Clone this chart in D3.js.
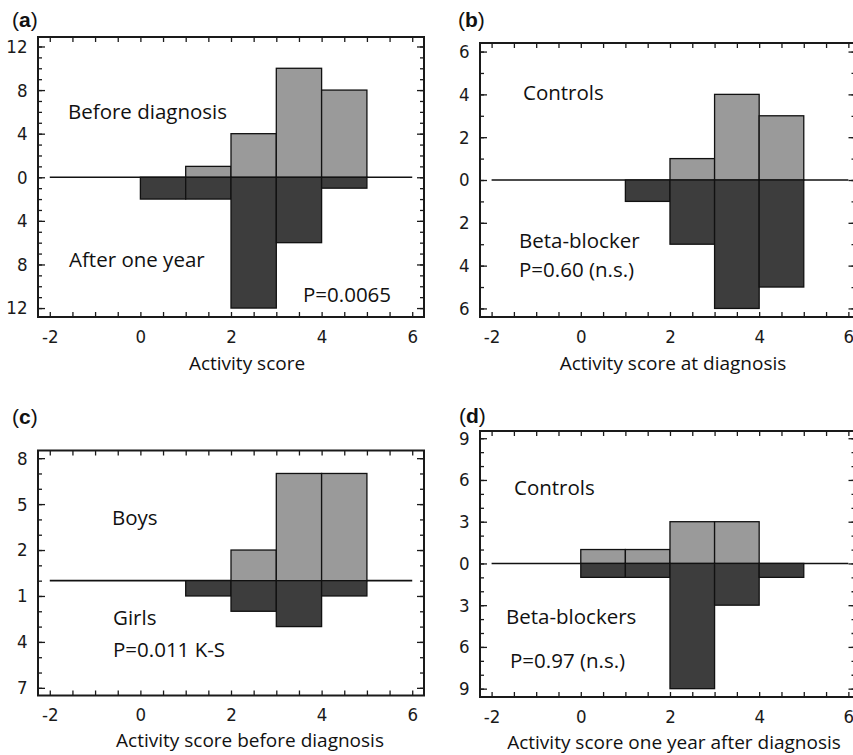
<!DOCTYPE html>
<html>
<head>
<meta charset="utf-8">
<script src="https://cdn.jsdelivr.net/npm/d3@7"></script>
<style>
  body { margin: 0; background: #fff; }
  svg { display: block; }
</style>
</head>
<body>
<script>
// lower edges of the one point wide activity score classes
const bins = [0, 1, 2, 3, 4];

// counts per class
const beforeDiagnosis = [0, 1, 4, 10, 8];
const afterOneYear = [2, 2, 12, 6, 1];
const controlsAtDiagnosis = [0, 0, 1, 4, 3];
const betaBlockerAtDiagnosis = [0, 1, 3, 6, 5];
const boys = [0, 0, 2, 7, 7];
const girls = [0, 1, 2, 3, 1];
const controlsOneYear = [1, 1, 3, 3, 0];
const betaBlockersOneYear = [1, 1, 9, 3, 1];

// tick labels
const xTicks = [-2, 0, 2, 4, 6];
const yTicksA = [-12, -8, -4, 0, 4, 8, 12];
const yTicksB = [-6, -4, -2, 0, 2, 4, 6];
const yTicksC = [-7, -4, -1, 2, 5, 8];
const yTicksD = [-9, -6, -3, 0, 3, 6, 9];

const W = 853, H = 755;
const lightFill = "#9a9a9a";
const darkFill = "#3d3d3d";
const tickFont = "'Liberation Sans Narrow', 'Arial Narrow', 'DejaVu Sans Condensed', sans-serif";
const textFont = "'Open Sans', sans-serif";

const panels = [
  {tag: "a", up: beforeDiagnosis, down: afterOneYear, yTicks: yTicksA,
   xDomain: [-2.26, 6.26], yDomain: [-12.82, 12.87], box: [38, 37, 424, 317],
   tagPos: [12, 27], title: "Activity score", titlePos: [247, 370],
   notes: [["Before diagnosis", 68, 119], ["After one year", 69, 267], ["P=0.0065", 303, 302]]},
  {tag: "b", up: controlsAtDiagnosis, down: betaBlockerAtDiagnosis, yTicks: yTicksB,
   xDomain: [-2.26, 6.16], yDomain: [-6.4, 6.4], box: [480, 43, 855.5, 317],
   tagPos: [458, 27], title: "Activity score at diagnosis", titlePos: [673, 370],
   notes: [["Controls", 523, 100], ["Beta-blocker", 519, 248], ["P=0.60 (n.s.)", 519, 277]]},
  {tag: "c", up: boys, down: girls, yTicks: yTicksC,
   xDomain: [-2.26, 6.26], yDomain: [-7.5, 8.5], box: [38, 450.5, 424, 695.5],
   tagPos: [12, 424], title: "Activity score before diagnosis", titlePos: [250, 747],
   notes: [["Boys", 112, 525], ["Girls", 113, 625], ["P=0.011 K-S", 113, 657]]},
  {tag: "d", up: controlsOneYear, down: betaBlockersOneYear, yTicks: yTicksD,
   xDomain: [-2.26, 6.16], yDomain: [-9.6, 9.52], box: [480, 431, 855.5, 697],
   tagPos: [459, 423], title: "Activity score one year after diagnosis", titlePos: [674, 749],
   notes: [["Controls", 514, 495], ["Beta-blockers", 506, 624], ["P=0.97 (n.s.)", 510, 668]]}
];

const svg = d3.select("body")
  .append("svg")
  .attr("width", W)
  .attr("height", H);

panels.forEach(drawPanel);

function drawPanel(p) {
  const [x0, y0, x1, y1] = p.box;
  const x = d3.scaleLinear().domain(p.xDomain).range([x0, x1]);
  const y = d3.scaleLinear().domain(p.yDomain).range([y1, y0]);
  const g = svg.append("g");

  // zero line across the score range
  g.append("line")
    .attr("x1", x(-2)).attr("x2", x(6))
    .attr("y1", y(0)).attr("y2", y(0))
    .attr("stroke", "#111").attr("stroke-width", 1.6);

  // upper histogram (light) and mirrored lower histogram (dark)
  const upData = bins.map((b, i) => ({b: b, v: p.up[i]})).filter(d => d.v > 0);
  const downData = bins.map((b, i) => ({b: b, v: p.down[i]})).filter(d => d.v > 0);

  g.selectAll("rect.up")
    .data(upData)
    .enter()
    .append("rect")
    .attr("class", "up")
    .attr("x", d => x(d.b))
    .attr("y", d => y(d.v))
    .attr("width", d => x(d.b + 1) - x(d.b))
    .attr("height", d => y(0) - y(d.v))
    .attr("fill", lightFill)
    .attr("stroke", "#111")
    .attr("stroke-width", 1.3);

  g.selectAll("rect.down")
    .data(downData)
    .enter()
    .append("rect")
    .attr("class", "down")
    .attr("x", d => x(d.b))
    .attr("y", y(0))
    .attr("width", d => x(d.b + 1) - x(d.b))
    .attr("height", d => y(-d.v) - y(0))
    .attr("fill", darkFill)
    .attr("stroke", "#111")
    .attr("stroke-width", 1.3);

  // inward ticks on all four sides
  const yMinor = d3.range(Math.ceil(p.yDomain[0]), Math.floor(p.yDomain[1]) + 1);
  const xMinor = d3.range(-2, 6.01, 0.5);

  const axes = [
    [d3.axisLeft(y).tickValues(yMinor).tickSize(-4).tickFormat(""), x0, 0],
    [d3.axisLeft(y).tickValues(p.yTicks).tickSize(-7).tickPadding(10.5)
      .tickFormat(d => Math.abs(d)), x0, 0],
    [d3.axisRight(y).tickValues(yMinor).tickSize(-4).tickFormat(""), x1, 0],
    [d3.axisRight(y).tickValues(p.yTicks).tickSize(-7).tickFormat(""), x1, 0],
    [d3.axisBottom(x).tickValues(xMinor).tickSize(-5)
      .tickFormat(d => xTicks.includes(d) ? d : "").tickPadding(12.5), 0, y1],
    [d3.axisTop(x).tickValues(xMinor).tickSize(-5).tickFormat(""), 0, y0]
  ];
  axes.forEach(function(a) {
    const ax = g.append("g")
      .attr("transform", "translate(" + a[1] + "," + a[2] + ")")
      .call(a[0]);
    ax.select(".domain").remove();
    ax.attr("color", "#1a1a1a");
    ax.selectAll("line").attr("stroke-width", 1.3);
    ax.selectAll("text")
      .attr("font-family", tickFont)
      .attr("font-size", 18.5)
      .attr("fill", "#1a1a1a");
  });

  // frame
  g.append("rect")
    .attr("x", x0).attr("y", y0)
    .attr("width", x1 - x0).attr("height", y1 - y0)
    .attr("fill", "none")
    .attr("stroke", "#1a1a1a")
    .attr("stroke-width", 2);

  // panel tag like (a)
  const tag = svg.append("text")
    .attr("x", p.tagPos[0]).attr("y", p.tagPos[1])
    .attr("font-family", "'Liberation Sans', Arial, sans-serif")
    .attr("font-size", 21)
    .attr("fill", "#111");
  tag.append("tspan").text("(");
  tag.append("tspan").attr("font-weight", "bold").text(p.tag);
  tag.append("tspan").text(")");

  // notes inside the plot
  p.notes.forEach(function(n) {
    svg.append("text")
      .attr("x", n[1]).attr("y", n[2])
      .attr("font-family", textFont)
      .attr("font-size", 20.5)
      .attr("fill", "#111")
      .text(n[0]);
  });

  // axis title
  svg.append("text")
    .attr("x", p.titlePos[0]).attr("y", p.titlePos[1])
    .attr("text-anchor", "middle")
    .attr("font-family", textFont)
    .attr("font-size", 19)
    .attr("fill", "#111")
    .text(p.title);
}
</script>
</body>
</html>
